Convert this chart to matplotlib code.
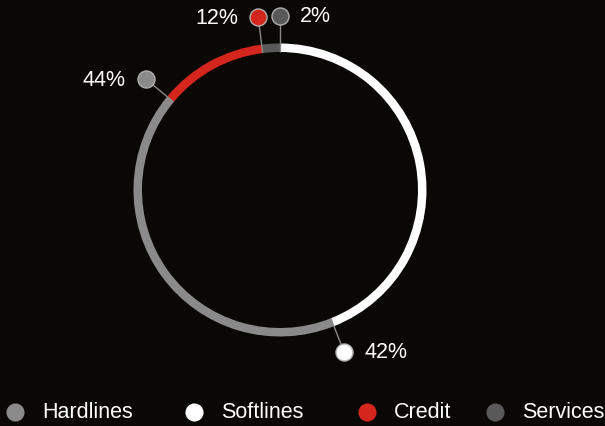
import matplotlib
matplotlib.use("Agg")
import matplotlib.pyplot as plt
import numpy as np

plt.rcParams['font.family'] = ['Liberation Sans', 'DejaVu Sans']

# Data (legend order)
categories = ["Hardlines", "Softlines", "Credit", "Services"]
values = [44, 42, 12, 2]
colors = {"Hardlines": "#8a8a8a", "Softlines": "#ffffff", "Credit": "#d5261d", "Services": "#595959"}
# Ring colouring / label order as drawn in the reference (clockwise from top)
ring_order = ["Softlines", "Hardlines", "Credit", "Services"]

BG = "#0a0805"
W, H = 605, 426
fig = plt.figure(figsize=(W / 100, H / 100), dpi=100, facecolor=BG)
ax = fig.add_axes([0, 0, 1, 1])
ax.set_facecolor(BG)

cx, cy = 280, H - 190
R_out, ring_w = 146.5, 8.5

ring_colors = [colors[c] for c in ring_order]
ax.pie(values, colors=ring_colors, startangle=90, counterclock=False,
       radius=R_out, center=(cx, cy),
       wedgeprops=dict(width=ring_w, linewidth=0))

# labels at the end of each drawn segment
ends = 90 - np.cumsum(values) / 100 * 360
r0, r1 = R_out - ring_w, 174
for name, ang in zip(ring_order, ends):
    a = np.deg2rad(ang)
    x0, y0 = cx + r0 * np.cos(a), cy + r0 * np.sin(a)
    x1, y1 = cx + r1 * np.cos(a), cy + r1 * np.sin(a)
    ax.plot([x0, x1], [y0, y1], color="#8a8a8a", lw=1, zorder=3, solid_capstyle="butt")
    ax.scatter([x1], [y1], s=150, color=colors[name], edgecolor="#b0b0b0",
               linewidth=1, zorder=4)
    val = values[categories.index(name)]
    if x1 < cx - 0.5:
        ax.text(x1 - 20, y1 - 1, f"{val}%", color="white", fontsize=15.5,
                ha="right", va="center", zorder=5)
    else:
        ax.text(x1 + 20, y1 - 1, f"{val}%", color="white", fontsize=15.5,
                ha="left", va="center", zorder=5)

# legend
leg_dot_x = [15, 194, 367, 495]
leg_y = H - 412
for name, dx in zip(categories, leg_dot_x):
    ax.scatter([dx], [leg_y], s=170, color=colors[name], linewidth=0, zorder=4)
    ax.text(dx + 27, leg_y - 1, name, color="white", fontsize=15.5,
            ha="left", va="center")

ax.set_xlim(0, W)
ax.set_ylim(0, H)
ax.set_aspect("auto")
ax.set_axis_off()

fig.savefig("out.png", dpi=100, facecolor=BG)
